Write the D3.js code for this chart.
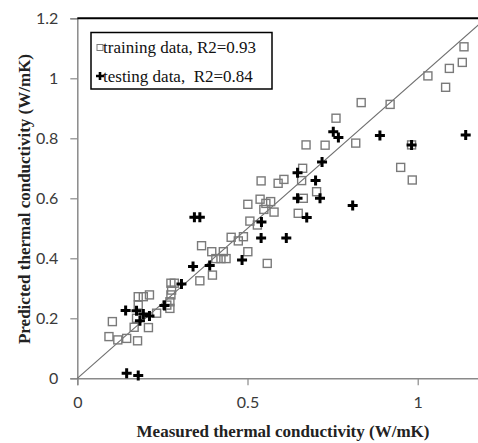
<!DOCTYPE html>
<html><head><meta charset="utf-8">
<script src="https://cdn.jsdelivr.net/npm/d3@7"></script>
<style>body{margin:0;background:#fff}svg{display:block}</style>
</head><body>
<script>
// Training data (measured, predicted)
const trainX = [1.136,1.131,1.093,1.030,1.082,0.834,0.919,0.760,0.672,0.728,0.818,0.950,0.984,0.982,0.662,0.659,0.703,0.664,0.540,0.590,0.607,0.501,0.537,0.554,0.568,0.548,0.578,0.649,0.507,0.529,0.452,0.488,0.473,0.365,0.395,0.429,0.501,0.558,0.407,0.422,0.437,0.360,0.397,0.275,0.285,0.277,0.275,0.272,0.272,0.263,0.179,0.194,0.212,0.179,0.233,0.103,0.174,0.167,0.209,0.093,0.119,0.145,0.177];
const trainY = [1.105,1.053,1.033,1.008,0.970,0.919,0.913,0.867,0.778,0.777,0.784,0.703,0.661,0.778,0.700,0.659,0.622,0.600,0.658,0.650,0.663,0.580,0.597,0.583,0.589,0.563,0.554,0.550,0.524,0.511,0.470,0.472,0.458,0.442,0.422,0.422,0.422,0.383,0.399,0.399,0.399,0.325,0.344,0.317,0.317,0.294,0.278,0.255,0.233,0.244,0.272,0.272,0.278,0.244,0.217,0.189,0.200,0.170,0.169,0.139,0.128,0.133,0.125];
// Testing data (measured, predicted)
const testX = [0.752,0.767,0.889,0.982,1.141,0.719,0.647,0.700,0.647,0.713,0.809,0.674,0.344,0.360,0.541,0.540,0.614,0.484,0.340,0.389,0.306,0.256,0.142,0.174,0.194,0.212,0.184,0.145,0.179];
const testY = [0.822,0.803,0.809,0.778,0.811,0.721,0.685,0.659,0.600,0.600,0.576,0.536,0.537,0.537,0.521,0.468,0.468,0.394,0.373,0.376,0.314,0.243,0.226,0.225,0.214,0.208,0.192,0.017,0.009];
const xTicks = [0, 0.5, 1];
const yTicks = [0, 0.2, 0.4, 0.6, 0.8, 1, 1.2];
const legendLabels = ["training data, R2=0.93", "testing data,  R2=0.84"];
const xTitle = "Measured thermal conductivity (W/mK)";
const yTitle = "Predicted thermal conductivity (W/mK)";

const W = 478, H = 443;
const svg = d3.select("body").append("svg").attr("width", W).attr("height", H);
const x = d3.scaleLinear().domain([0, 1.2]).range([77.3, 77.3 + 1.2 * 340.4]);
const y = d3.scaleLinear().domain([0, 1.2]).range([378.3, 18.3]);
const axisCol = "#8a8a8a";

// x axis
const gx = svg.append("g").attr("transform", `translate(0,${y(0)})`)
  .call(d3.axisBottom(x).tickValues(xTicks).tickFormat(d3.format("")).tickSize(7).tickPadding(9));
// y axis
const gy = svg.append("g").attr("transform", `translate(${x(0)},0)`)
  .call(d3.axisLeft(y).tickValues(yTicks).tickFormat(d3.format("")).tickSize(7).tickPadding(12));
[gx, gy].forEach(g => {
  g.select(".domain").attr("stroke", axisCol).attr("stroke-width", 1.5);
  g.selectAll(".tick line").attr("stroke", axisCol).attr("stroke-width", 1.2);
  g.selectAll(".tick text").attr("fill", "#3a3a3a").style("font-family", "Lato, 'Open Sans', sans-serif").style("font-size", "16px");
});
gx.selectAll(".tick text").attr("dy", "0.85em");

// top border
svg.append("line").attr("x1", x(0)).attr("x2", W).attr("y1", y(1.2)).attr("y2", y(1.2))
  .attr("stroke", "#000").attr("stroke-width", 2);

// diagonal
svg.append("line").attr("x1", x(0)).attr("y1", y(0)).attr("x2", x(1.2)).attr("y2", y(1.2))
  .attr("stroke", "#6e6e6e").attr("stroke-width", 1.1);

// training squares
const train = trainX.map((d, i) => [d, trainY[i]]);
const test = testX.map((d, i) => [d, testY[i]]);
const s = 8;
svg.append("g").selectAll("rect").data(train).join("rect")
  .attr("x", d => x(d[0]) - s / 2).attr("y", d => y(d[1]) - s / 2)
  .attr("width", s).attr("height", s)
  .attr("fill", "none").attr("stroke", "#7a7a7a").attr("stroke-width", 1.4);

// testing plus
const plus = (cx, cy, r) => `M${cx - r},${cy}H${cx + r}M${cx},${cy - r}V${cy + r}`;
svg.append("g").selectAll("path").data(test).join("path")
  .attr("d", d => plus(x(d[0]), y(d[1]), 5))
  .attr("stroke", "#000").attr("stroke-width", 3).attr("fill", "none");

// legend
const lg = svg.append("g");
lg.append("rect").attr("x", 91).attr("y", 32.5).attr("width", 181).attr("height", 56.5)
  .attr("fill", "#fff").attr("stroke", "#000").attr("stroke-width", 1.5);
lg.append("rect").attr("x", 97).attr("y", 44.5).attr("width", 6).attr("height", 6)
  .attr("fill", "none").attr("stroke", "#7a7a7a").attr("stroke-width", 1);
lg.append("path").attr("d", plus(100, 76, 4)).attr("stroke", "#000").attr("stroke-width", 2.6);
lg.selectAll("text").data(legendLabels).join("text")
  .attr("x", 103).attr("y", (d, i) => 53 + i * 29)
  .style("font-family", "'Liberation Serif', 'Times New Roman', serif").style("font-size", "17px")
  .attr("fill", "#111").attr("xml:space", "preserve").style("white-space", "pre")
  .text(d => d);

// axis titles
svg.append("text").attr("x", 283).attr("y", 437).attr("text-anchor", "middle")
  .style("font-family", "'Liberation Serif', 'Times New Roman', serif").style("font-size", "17px")
  .style("font-weight", "bold").attr("fill", "#222").text(xTitle);
svg.append("text").attr("transform", "translate(24,199) rotate(-90)").attr("text-anchor", "middle")
  .attr("dy", "0.35em")
  .style("font-family", "'Liberation Serif', 'Times New Roman', serif").style("font-size", "17px")
  .style("font-weight", "bold").attr("fill", "#222").text(yTitle);
</script>
</body></html>
